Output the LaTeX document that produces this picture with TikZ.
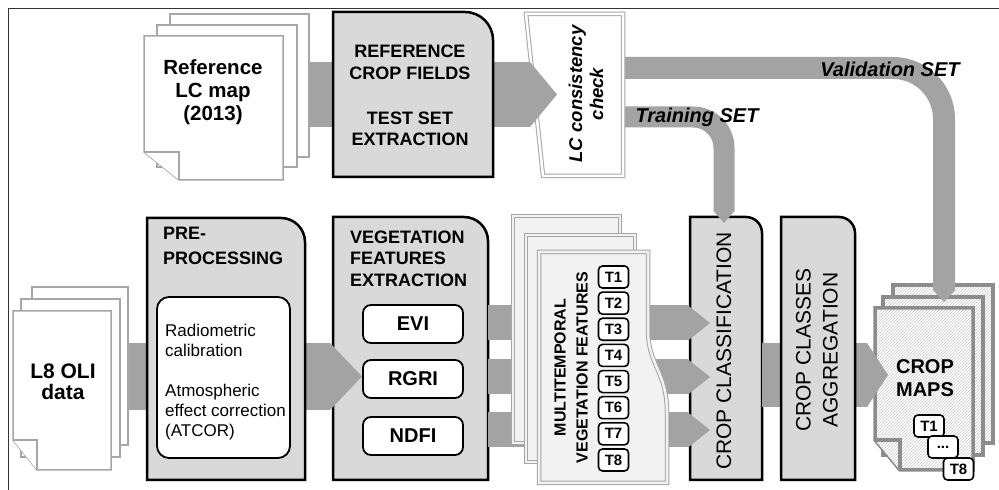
\documentclass[tikz,border=0pt]{standalone}
\usepackage{fontspec}
\setmainfont{Liberation Sans}
\usetikzlibrary{arrows.meta,patterns}
\definecolor{boxfill}{HTML}{D9D9D9}
\definecolor{bandgray}{HTML}{A3A3A3}
\definecolor{pagegray}{HTML}{A6A6A6}
\definecolor{mapgray}{HTML}{8C8C8C}
\definecolor{framegray}{HTML}{333333}
\definecolor{mtfill}{HTML}{F2F2F2}
\newcommand\foldpage[7]{%
  \draw[#1] (#2,#3) -- (#4,#3) -- (#4,#5) -- ({#2+#6},#5) -- (#2,{#5+#7}) -- cycle;
  \draw[#1] (#2,{#5+#7}) -- ({#2+#6},{#5+#7}) -- ({#2+#6},#5);
}
\newcommand\trbox[6]{%
  \draw[box] (#2,#5) -- (#2,#3) -- ({#4-#6},#3) arc[start angle=90,end angle=0,radius=#6pt] -- (#4,#5) -- cycle;
  \coordinate (#1) at ({(#2+#4)/2},{(#3+#5)/2});
}
\begin{document}
\begin{tikzpicture}[x=1pt,y=1pt,
  box/.style={draw=black, line width=2.5pt, fill=boxfill},
  innerbox/.style={draw=black, line width=1.8pt, fill=white, rounded corners=12pt},
  featbox/.style={draw=black, line width=1.8pt, fill=white, rounded corners=8pt, minimum width=100pt, minimum height=38pt, inner sep=0pt, font=\bfseries\fontsize{20}{24}\selectfont},
  tbox/.style={draw=black, line width=1.6pt, fill=white, rounded corners=4pt, minimum width=30pt, minimum height=22pt, inner sep=0pt, font=\bfseries\fontsize{15}{16}\selectfont},
  page/.style={draw=pagegray, line width=1.5pt, fill=white},
  mtpage/.style={draw=pagegray, double=mtfill, double distance=2.5pt, line width=1pt, fill=mtfill},
  lcbox/.style={draw=pagegray, double=white, double distance=2.5pt, line width=1pt, fill=white},
  mappage/.style={draw=mapgray, line width=3.5pt, pattern=north east lines, pattern color=gray!40, preaction={fill=white}},
  band/.style={draw=bandgray, line cap=butt},
  bigtxt/.style={font=\bfseries\fontsize{20.5}{23}\selectfont, align=center, inner sep=0pt},
  hdc/.style={font=\bfseries\fontsize{18}{21.5}\selectfont, align=center, inner sep=0pt},
  hdl/.style={font=\bfseries\fontsize{18}{21.5}\selectfont, align=left, anchor=west, inner sep=0pt},
  settxt/.style={font=\bfseries\itshape\fontsize{20}{24}\selectfont, inner sep=0pt},
  vtxt/.style={font=\fontsize{21}{27}\selectfont, align=center, rotate=90, inner sep=0pt}
]
\useasboundingbox (0,0) rectangle (999,490);
\fill[white] (0,0) rectangle (999,490);
\draw[framegray, line width=1pt] (8,0) -- (8,481) -- (999,481);

% ---------- top row ----------
\draw[lcbox] (526,476) -- (623,476) -- (623,314) -- (543,314) -- cycle;
\node[font=\bfseries\itshape\fontsize{18.5}{21}\selectfont, align=center, rotate=90, inner sep=0pt] (lccheck) at (586,396) {LC consistency\\check};

\coordinate (refS) at (300,395.5);
\coordinate (refT) at (557,395.5);
\draw[band, line width=65pt, -{Triangle[length=27pt,width=65pt,line width=0pt]}] (refS) -- (refT);

\draw[page] (170,476) rectangle (309,333);
\draw[page] (157,465) rectangle (297,323);
\foldpage{page}{144}{454}{283}{310}{35}{28}
\node[bigtxt] (lcmap) at (213,398) {Reference\\LC map\\(2013)};

\trbox{refbox}{333}{478}{493}{313}{28}
\node[hdc] (reftxta) at (410,427.5) {REFERENCE\\CROP FIELDS};
\node[hdc] (reftxtb) at (410,361) {TEST SET\\EXTRACTION};

% ---------- bottom row ----------
\trbox{vegbox}{333}{273}{488}{10}{24}
\node[hdl] (vegtxt) at (350,231.5) {VEGETATION\\FEATURES\\EXTRACTION};
\node[featbox] (evi) at (413,166) {EVI};
\node[featbox] (rgri) at (413,111) {RGRI};
\node[featbox] (ndfi) at (413,54) {NDFI};

\coordinate (l8S) at (105,113.5);
\coordinate (l8T) at (362,113.5);
\draw[band, line width=67pt, -{Triangle[length=32pt,width=67pt,line width=0pt]}] (l8S) -- (l8T);

\draw[page] (32,203) rectangle (128,45);
\draw[page] (21,191) rectangle (120,33);
\foldpage{page}{13}{179}{111}{20}{24}{30}
\node[bigtxt, font=\bfseries\fontsize{21}{21}\selectfont] (l8) at (63,108) {L8 OLI\\data};

\trbox{prebox}{147}{272}{305}{10}{24}
\node[hdl, font=\bfseries\fontsize{18}{25}\selectfont] (pretxt) at (163,244.5) {PRE-\\PROCESSING};
\draw[innerbox] (157,193) rectangle (290,32);
\node[font=\fontsize{17}{20}\selectfont, align=left, anchor=west, inner sep=0pt] (pretxtb) at (165,108) {Radiometric\\calibration\\[20pt]Atmospheric\\effect correction\\(ATCOR)};

\trbox{ccbox}{690}{273}{762}{10}{16}

\coordinate (b1S) at (488,167);
\coordinate (b1T) at (710,167);
\coordinate (b2S) at (488,113);
\coordinate (b2T) at (710,113);
\coordinate (b3S) at (488,60);
\coordinate (b3T) at (710,60);
\foreach \s/\t in {b1S/b1T, b2S/b2T, b3S/b3T}
  \draw[band, line width=35pt, -{Triangle[length=22pt,width=35pt,line width=0pt]}] (\s) -- (\t);

\draw[mtpage] (513,274) rectangle (620,47);
\draw[mtpage] (526,255) rectangle (635,28);
\draw[mtpage] (539,238) -- (648,238) -- (648,160) .. controls (648,125) and (667,118) .. (667,78) -- (667,7) -- (539,7) -- cycle;
\node[font=\bfseries\fontsize{16}{22}\selectfont, align=center, rotate=90, inner sep=0pt] (mttxt) at (571,122.5) {MULTITEMPORAL\\VEGETATION FEATURES};
\foreach \i in {1,...,8}
  \node[tbox] (t\i) at (613.5,{213-26.14*(\i-1)}) {T\i};

\draw[mappage] (893,205) rectangle (993,47);
\draw[mappage] (883,193) rectangle (983,35);
\foldpage{mappage}{875}{182}{973}{20}{25}{30}

\coordinate (caS) at (762,115);
\coordinate (caT) at (888,115);
\draw[band, line width=64pt, -{Triangle[length=21pt,width=64pt,line width=0pt]}] (caS) -- (caT);

\trbox{aggbox}{781}{273}{855}{10}{16}
\node[vtxt] (cctxt) at (724,139) {CROP CLASSIFICATION};
\node[vtxt] (aggtxt) at (817,140) {CROP CLASSES\\AGGREGATION};

\node[font=\bfseries\fontsize{20}{23}\selectfont, align=center, inner sep=0pt] (maps) at (925,111.5) {CROP\\MAPS};
\node[tbox] (mt1) at (929,64) {T1};
\node[tbox] (mtd) at (943,43) {...};
\node[tbox] (mt8) at (958.5,21) {T8};

% ---------- training / validation ----------
\coordinate (valS) at (625,422);
\coordinate (valT) at (944,188);
\draw[band, line width=22pt, rounded corners=51pt, -{Triangle[length=12pt,width=22pt,line width=0pt]}] (valS) -| (valT);
\coordinate (trS) at (625,373);
\coordinate (trT) at (724,267);
\draw[band, line width=21pt, rounded corners=31pt, -{Triangle[length=12pt,width=21pt,line width=0pt]}] (trS) -| (trT);

\node[settxt] (vallab) at (890,421) {Validation SET};
\node[settxt] (trlab) at (697,373) {Training SET};
\end{tikzpicture}
\end{document}
